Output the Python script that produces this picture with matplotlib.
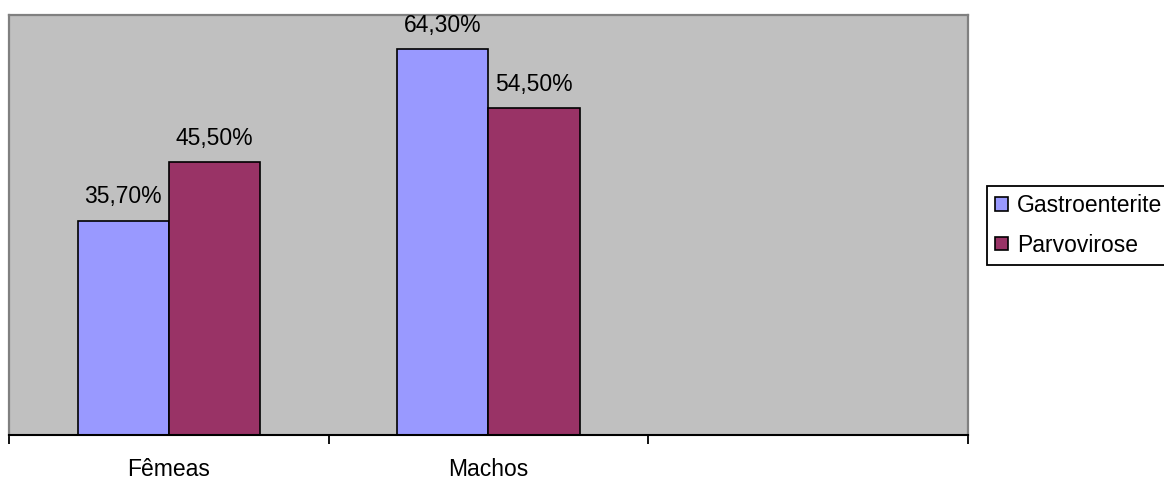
import numpy as np
import matplotlib
matplotlib.use("Agg")
import matplotlib.pyplot as plt
from matplotlib.patches import Patch

plt.rcParams["font.family"] = ["Liberation Sans", "DejaVu Sans"]

# categories (third slot left empty on the axis)
categorias = ["Fêmeas", "Machos", ""]
series = ["Gastroenterite", "Parvovirose"]
gastro = [35.7, 64.3]
parvo = [45.5, 54.5]
cores = ["#9999FF", "#993366"]

W, H = 1164, 479
fig = plt.figure(figsize=(W / 100, H / 100), dpi=100)
ax = fig.add_axes([9 / W, 1 - 435 / H, (968 - 9) / W, (435 - 15) / H])
ax.set_facecolor("#C0C0C0")

largura = 0.285
x = np.arange(len(gastro))
for valores, off, cor in [(gastro, -largura / 2, cores[0]), (parvo, largura / 2, cores[1])]:
    barras = ax.bar(x + off, valores, largura, color=cor, edgecolor="black", linewidth=1.2)
    for b, v in zip(barras, valores):
        rotulo = f"{v:.2f}%".replace(".", ",")
        ax.annotate(rotulo, (b.get_x() + b.get_width() / 2, v), xytext=(0, 12.5),
                    textcoords="offset points", ha="center", va="baseline",
                    fontsize=16.5, annotation_clip=False)

ax.set_xlim(-0.5, 2.5)
ax.set_ylim(0, 70)
ax.set_yticks([])

# category labels at centres, tick marks on the boundaries
ax.set_xticks(np.arange(len(categorias)))
ax.set_xticklabels(categorias, fontsize=16.5)
ax.tick_params(axis="x", which="major", length=0, pad=16.5)
ax.set_xticks(np.arange(-0.5, 3.0, 1.0), minor=True)
ax.tick_params(axis="x", which="minor", direction="out", length=6.5, width=1.3, color="black")

for lado in ["top", "left", "right"]:
    ax.spines[lado].set_color("#808080")
    ax.spines[lado].set_linewidth(1.6)
ax.spines["bottom"].set_color("black")
ax.spines["bottom"].set_linewidth(1.5)

handles = [Patch(facecolor=c, edgecolor="black", linewidth=1.2) for c in cores]
leg = fig.legend(handles, series, loc="upper left", bbox_to_anchor=(987 / W, 1 - 186 / H),
                 fontsize=16.5, frameon=True, fancybox=False, framealpha=1,
                 edgecolor="black", handlelength=0.55, handleheight=0.55,
                 handletextpad=0.4, labelspacing=0.72, borderpad=0.35,
                 borderaxespad=0)
leg.get_frame().set_linewidth(1.3)

fig.savefig("out.png", dpi=100)
